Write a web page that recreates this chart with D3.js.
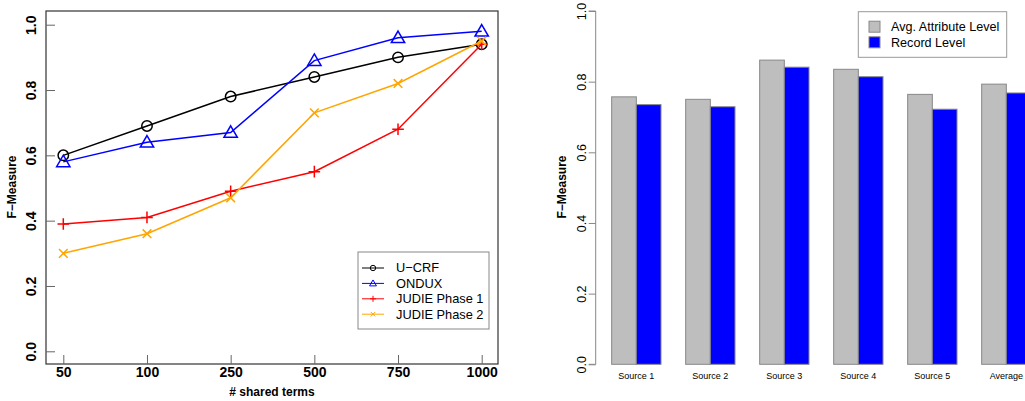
<!DOCTYPE html>
<html>
<head>
<meta charset="utf-8">
<script src="https://cdn.jsdelivr.net/npm/d3@7"></script>
<style>
  body { margin: 0; background: #fff; }
  svg { font-family: 'Liberation Sans', Arial, sans-serif; }
</style>
</head>
<body>
<div id="chart"></div>
<script>
// left panel data
const terms = ['50', '100', '250', '500', '750', '1000'];
const ucrf = [0.60, 0.69, 0.78, 0.84, 0.90, 0.94];
const ondux = [0.58, 0.64, 0.67, 0.89, 0.96, 0.98];
const judie1 = [0.39, 0.41, 0.49, 0.55, 0.68, 0.94];
const judie2 = [0.30, 0.36, 0.47, 0.73, 0.82, 0.95];
const lineNames = ['U\u2212CRF', 'ONDUX', 'JUDIE Phase 1', 'JUDIE Phase 2'];
const lineColors = ['#000000', '#0000ff', '#ff0000', '#ffa500'];
const lineMarks = ['circle', 'triangle', 'plus', 'cross'];
const yTicks = [0, 0.2, 0.4, 0.6, 0.8, 1.0];

// right panel data
const sources = ['Source 1', 'Source 2', 'Source 3', 'Source 4', 'Source 5', 'Average'];
const attrLevel = [0.757, 0.750, 0.861, 0.835, 0.764, 0.793];
const recordLevel = [0.735, 0.729, 0.841, 0.814, 0.722, 0.768];
const barNames = ['Avg. Attribute Level', 'Record Level'];
const barColors = ['#bebebe', '#0000ff'];

const w = 1025, h = 401;

const svg = d3.select('#chart')
  .append('svg')
  .attr('width', w)
  .attr('height', h);

// ---------- left: line chart ----------
const box = { l: 46, r: 498, t: 11, b: 364 };

const x = d3.scalePoint()
  .domain(terms)
  .range([63.3, 481.7]);

const y = d3.scaleLinear()
  .domain([0, 1])
  .range([351.3, 24.7]);

const left = svg.append('g');

left.append('rect')
  .attr('x', box.l)
  .attr('y', box.t)
  .attr('width', box.r - box.l)
  .attr('height', box.b - box.t)
  .attr('fill', 'none')
  .attr('stroke', '#333')
  .attr('stroke-width', 1.2);

const yAxisL = left.append('g')
  .attr('transform', `translate(${box.l}, 0)`)
  .call(d3.axisLeft(y).tickValues(yTicks).tickSize(-9).tickFormat(d3.format('.1f')));
yAxisL.select('.domain').remove();
yAxisL.selectAll('line').attr('stroke', '#666');
yAxisL.selectAll('text')
  .attr('x', 0).attr('y', 0).attr('dy', '0.35em')
  .attr('transform', 'translate(-14.5,0) rotate(-90)')
  .style('text-anchor', 'middle')
  .style('font-size', '14px')
  .style('font-weight', 'bold')
  .attr('fill', '#000');

const xAxisL = left.append('g')
  .attr('transform', `translate(0, ${box.b})`)
  .call(d3.axisBottom(x).tickSize(-9).tickPadding(0));
xAxisL.select('.domain').remove();
xAxisL.selectAll('line').attr('stroke', '#666');
xAxisL.selectAll('text')
  .attr('y', 13)
  .attr('dy', 0)
  .style('font-size', '14px')
  .style('font-weight', 'bold')
  .attr('fill', '#000');

left.append('text')
  .attr('x', 272)
  .attr('y', 396)
  .attr('text-anchor', 'middle')
  .style('font-size', '12px')
  .style('font-weight', 'bold')
  .text('# shared terms');

left.append('text')
  .attr('transform', 'translate(12, 187) rotate(-90)')
  .attr('dy', '0.35em')
  .attr('text-anchor', 'middle')
  .style('font-size', '12px')
  .style('font-weight', 'bold')
  .text('F\u2212Measure');

function drawMark(g, type, cx, cy, color, s, sw) {
  if (type === 'circle') {
    g.append('circle').attr('cx', cx).attr('cy', cy).attr('r', s * 0.9)
      .attr('fill', 'none').attr('stroke', color).attr('stroke-width', sw);
  } else if (type === 'triangle') {
    const r = s * 1.15;
    g.append('path')
      .attr('d', `M${cx},${cy - r}L${cx + r},${cy + r * 0.72}L${cx - r},${cy + r * 0.72}Z`)
      .attr('fill', 'none').attr('stroke', color).attr('stroke-width', sw);
  } else if (type === 'plus') {
    g.append('path')
      .attr('d', `M${cx - s},${cy}L${cx + s},${cy}M${cx},${cy - s}L${cx},${cy + s}`)
      .attr('stroke', color).attr('stroke-width', sw);
  } else {
    const d = s * 0.75;
    g.append('path')
      .attr('d', `M${cx - d},${cy - d}L${cx + d},${cy + d}M${cx - d},${cy + d}L${cx + d},${cy - d}`)
      .attr('stroke', color).attr('stroke-width', sw);
  }
}

const lineSeries = [ucrf, ondux, judie1, judie2];
const line = d3.line()
  .x((d, i) => x(terms[i]))
  .y(d => y(d));

lineSeries.forEach((vals, k) => {
  const g = left.append('g');
  g.append('path')
    .datum(vals)
    .attr('d', line)
    .attr('fill', 'none')
    .attr('stroke', lineColors[k])
    .attr('stroke-width', 1.5);
  vals.forEach((v, i) => drawMark(g, lineMarks[k], x(terms[i]), y(v), lineColors[k], 5.8, 1.5));
});

// legend
const lg = left.append('g');
lg.append('rect')
  .attr('x', 358).attr('y', 252)
  .attr('width', 131).attr('height', 77)
  .attr('fill', '#fff')
  .attr('stroke', '#888');

lineNames.forEach((name, k) => {
  const ly = 268 + k * 15.4;
  lg.append('line')
    .attr('x1', 362).attr('x2', 384)
    .attr('y1', ly).attr('y2', ly)
    .attr('stroke', lineColors[k]).attr('stroke-width', 1);
  drawMark(lg, lineMarks[k], 373, ly, lineColors[k], 3, 1);
  lg.append('text')
    .attr('x', 396).attr('y', ly).attr('dy', '0.35em')
    .style('font-size', '12.8px')
    .text(name);
});

// ---------- right: bar chart ----------
const right = svg.append('g');

const yR = d3.scaleLinear()
  .domain([0, 1])
  .range([364.3, 11]);

const x0 = d3.scaleBand()
  .domain(sources)
  .range([587, 587 + 74 * (6 - 1 / 3 + 2 / 3)])
  .paddingInner(1 / 3)
  .paddingOuter(1 / 3);

const x1 = d3.scaleBand()
  .domain(barNames)
  .range([0, x0.bandwidth()]);

const barData = sources.map((s, i) => ({ source: s, values: [attrLevel[i], recordLevel[i]] }));

right.selectAll('.group')
  .data(barData)
  .enter()
  .append('g')
  .attr('class', 'group')
  .attr('transform', d => `translate(${x0(d.source)}, 0)`)
  .selectAll('rect')
  .data(d => d.values.map((v, j) => ({ v, j })))
  .enter()
  .append('rect')
  .attr('x', d => x1(barNames[d.j]))
  .attr('y', d => yR(d.v))
  .attr('width', x1.bandwidth())
  .attr('height', d => yR(0) - yR(d.v))
  .attr('fill', d => barColors[d.j])
  .attr('stroke', '#888')
  .attr('stroke-width', 1);

const yAxisR = right.append('g')
  .attr('transform', 'translate(595.7, 0)')
  .call(d3.axisLeft(yR).tickValues(yTicks).tickSize(7).tickFormat(d3.format('.1f')));
yAxisR.select('.domain').attr('stroke', '#888').attr('d', `M-7,${yR(0)}H0V${yR(1)}H-7`);
yAxisR.selectAll('line').attr('stroke', '#888');
yAxisR.selectAll('text')
  .attr('x', 0).attr('y', 0).attr('dy', '0.35em')
  .attr('transform', 'translate(-14,0) rotate(-90)')
  .style('text-anchor', 'middle')
  .style('font-size', '12.5px')
  .attr('fill', '#000');

right.selectAll('.xlabel')
  .data(sources)
  .enter()
  .append('text')
  .attr('class', 'xlabel')
  .attr('x', d => x0(d) + x0.bandwidth() / 2)
  .attr('y', 379)
  .attr('text-anchor', 'middle')
  .style('font-size', '9px')
  .text(d => d);

right.append('text')
  .attr('transform', 'translate(562, 187) rotate(-90)')
  .attr('dy', '0.35em')
  .attr('text-anchor', 'middle')
  .style('font-size', '12px')
  .style('font-weight', 'bold')
  .text('F\u2212Measure');

const lgR = right.append('g');
lgR.append('rect')
  .attr('x', 858.3).attr('y', 11.7)
  .attr('width', 148.4).attr('height', 45.6)
  .attr('fill', '#fff')
  .attr('stroke', '#999');

barNames.forEach((name, k) => {
  const ly = 26.7 + k * 15.6;
  lgR.append('rect')
    .attr('x', 869).attr('y', ly - 5.5)
    .attr('width', 11).attr('height', 11)
    .attr('fill', barColors[k])
    .attr('stroke', '#888');
  lgR.append('text')
    .attr('x', 891).attr('y', ly).attr('dy', '0.35em')
    .style('font-size', '12.6px')
    .text(name);
});
</script>
</body>
</html>
